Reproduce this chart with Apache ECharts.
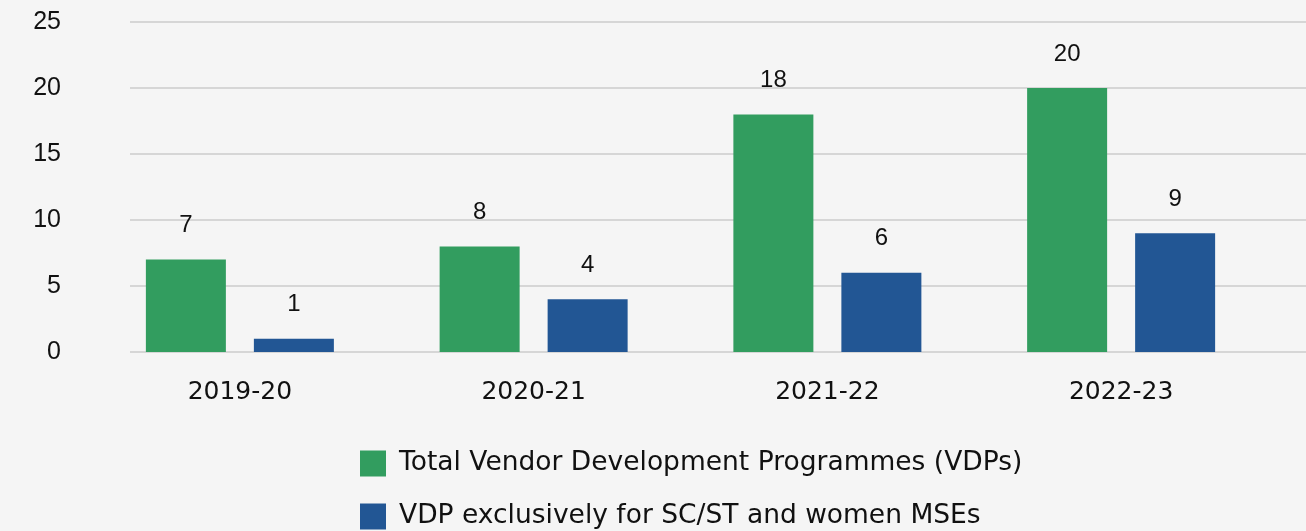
<!DOCTYPE html>
<html>
<head>
<meta charset="utf-8">
<script src="https://cdn.jsdelivr.net/npm/echarts@6/dist/echarts.min.js"></script>
<style>
  html, body { margin: 0; padding: 0; background: #f5f5f5; }
  #chart { width: 1306px; height: 531px; }
</style>
</head>
<body>
<div id="chart"></div>
<script>
// Financial years shown on the x axis
const years = ['2019-20', '2020-21', '2021-22', '2022-23'];
// Number of programmes per year
const totalVDPs = [7, 8, 18, 20];
const scstWomenVDPs = [1, 4, 6, 9];
const seriesNames = [
  'Total Vendor Development Programmes (VDPs)',
  'VDP exclusively for SC/ST and women MSEs'
];

const GREEN = '#329d5f';
const BLUE = '#225694';
const labelFont = "'Liberation Sans', Arial, sans-serif";
const titleFont = "'DejaVu Sans', sans-serif";

const chart = echarts.init(document.getElementById('chart'));

const dataLabel = {
  show: true,
  position: 'top',
  distance: 22,
  color: '#111',
  fontFamily: labelFont,
  fontSize: 24
};

// one legend block per series, stacked under the plot
function legendFor(name, top) {
  return {
    left: 355,
    top: top,
    itemWidth: 26,
    itemHeight: 26,
    icon: 'rect',
    textStyle: {
      fontFamily: titleFont,
      fontSize: 26.5,
      color: '#111',
      padding: [0, 0, 0, 8]
    },
    data: [name]
  };
}

chart.setOption({
  backgroundColor: '#f5f5f5',
  animation: false,
  grid: [
    // grid carrying the value axis ticks and gridlines
    { left: 130, right: 0, top: 22, bottom: 179 },
    // grid carrying the bars
    { left: 93, right: 38, top: 22, bottom: 179 }
  ],
  legend: [
    legendFor(seriesNames[0], 445),
    legendFor(seriesNames[1], 498)
  ],
  xAxis: [
    {
      gridIndex: 0, type: 'category', data: years,
      show: false
    },
    {
      gridIndex: 1, type: 'category', data: years,
      axisLine: { show: false },
      axisTick: { show: false },
      axisLabel: {
        margin: 28,
        color: '#111',
        fontFamily: titleFont,
        fontSize: 25
      }
    }
  ],
  yAxis: [
    {
      gridIndex: 0, type: 'value', min: 0, max: 25, interval: 5,
      axisLine: { show: false },
      axisTick: { show: false },
      axisLabel: {
        margin: 69,
        color: '#111',
        fontFamily: labelFont,
        fontSize: 25,
        align: 'right'
      },
      splitLine: { lineStyle: { color: '#cbcbcb', width: 1.5 } }
    },
    {
      gridIndex: 1, type: 'value', min: 0, max: 25, interval: 5,
      show: false,
      splitLine: { show: false }
    }
  ],
  series: [
    {
      name: seriesNames[0], type: 'bar',
      xAxisIndex: 1, yAxisIndex: 1,
      data: totalVDPs,
      barWidth: 80, barGap: '35%',
      itemStyle: { color: GREEN },
      label: dataLabel
    },
    {
      name: seriesNames[1], type: 'bar',
      xAxisIndex: 1, yAxisIndex: 1,
      data: scstWomenVDPs,
      barWidth: 80, barGap: '35%',
      itemStyle: { color: BLUE },
      label: dataLabel
    }
  ]
});
</script>
</body>
</html>
